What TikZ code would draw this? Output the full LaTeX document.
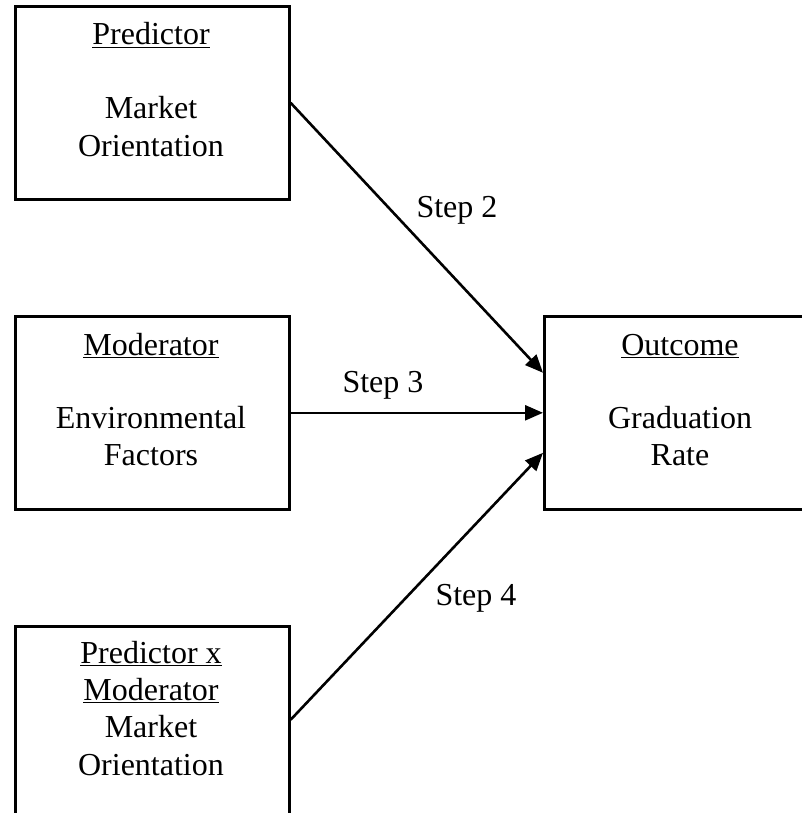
\documentclass[tikz,border=0pt]{standalone}
\usepackage{fontspec}
\setmainfont{Liberation Serif}
\usetikzlibrary{arrows.meta,calc}
\begin{document}
\begin{tikzpicture}[x=1pt,y=-1pt,
  box/.style={draw=black,line width=2.6pt,minimum width=274pt,minimum height=193pt,anchor=north west,inner sep=0pt},
  txt/.style={anchor=base,inner sep=0pt,font=\fontsize{32}{37.5}\selectfont},
  conn/.style={line width=2.6pt,-{Triangle[length=18pt,width=15pt]}}]
\useasboundingbox (0,0) rectangle (802,813);
\clip (0,0) rectangle (802,813);
% boxes
\node[box] (pred) at (14,5) {};
\node[box] (mod) at (14,315) {};
\node[box] (inter) at (14,625) {};
\node[box] (out) at (543,315) {};
% box texts (one node per line, placed on the baseline)
\node[txt] (predA) at (151,45) {\underline{Predictor}};
\node[txt] (predB) at (151,119) {Market};
\node[txt] (predC) at (151,157) {Orientation};
\node[txt] (modA) at (151,355) {\underline{Moderator}};
\node[txt] (modB) at (151,428) {Environmental};
\node[txt] (modC) at (151,465) {Factors};
\node[txt] (intA) at (151,663) {\underline{Predictor x}};
\node[txt] (intB) at (151,700) {\underline{Moderator}};
\node[txt] (intC) at (151,737) {Market};
\node[txt] (intD) at (151,775) {Orientation};
\node[txt] (outA) at (680,355) {\underline{Outcome}};
\node[txt] (outB) at (680,428) {Graduation};
\node[txt] (outC) at (680,465) {Rate};
% connectors
\draw[conn] (pred.east) -- ($(out.west)+(0,-40)$);
\draw[conn] (mod.east) -- (out.west);
\draw[conn] ($(inter.east)+(0,-3)$) -- ($(out.west)+(0,40)$);
% step labels
\node[txt] (s2) at (457,217) {Step 2};
\node[txt] (s3) at (383,392) {Step 3};
\node[txt] (s4) at (476,605) {Step 4};
\end{tikzpicture}
\end{document}
